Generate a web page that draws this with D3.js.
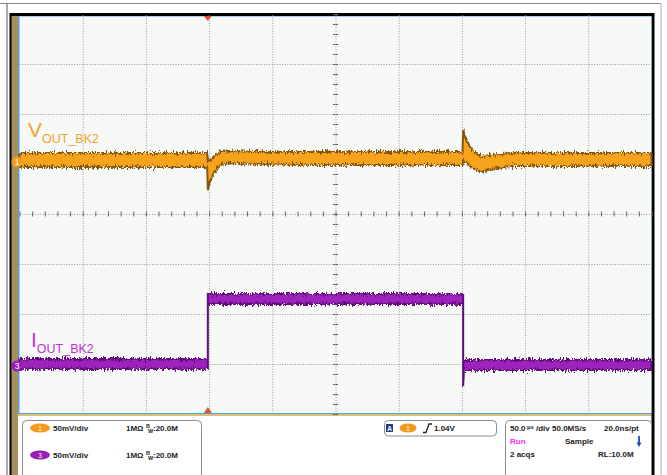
<!DOCTYPE html>
<html>
<head>
<meta charset="utf-8">
<script src="https://cdn.jsdelivr.net/npm/d3@7"></script>
<style>
  body { margin: 0; background: #fff; }
  svg { display: block; font-family: "Liberation Sans", Arial, sans-serif; }
  .info { font-size: 8px; font-weight: bold; fill: #222; }
</style>
</head>
<body>
<svg id="scope" width="667" height="475"></svg>
<script>
// time in µs (50 µs/div), amplitude in divisions (50 mV/div)
const ch1Time = [-250, -101.5, -101, -99.5, -96, -91, -83, -60, -28, 100.5, 101, 103.5, 108, 115, 123, 139, 250];
const ch1Hi = [1.22, 1.22, 1.08, 1.06, 1.16, 1.24, 1.26, 1.24, 1.24, 1.24, 1.68, 1.48, 1.28, 1.16, 1.18, 1.22, 1.22];
const ch1Lo = [0.94, 0.94, 0.48, 0.64, 0.84, 0.98, 1.02, 1.0, 0.98, 0.98, 1.08, 1.04, 0.92, 0.84, 0.9, 0.96, 0.96];

const ch3Time = [-250, -101, -101, 101, 101, 101.6, 250];
const ch3Hi = [-2.9, -2.9, -1.6, -1.6, -2.9, -2.92, -2.92];
const ch3Lo = [-3.1, -3.1, -1.8, -1.8, -3.44, -3.12, -3.12];

const gridTimes = [-200, -150, -100, -50, 0, 50, 100, 150, 200];
const gridDivs = [-3, -2, -1, 0, 1, 2, 3];
const triggerTime = -101;

const svg = d3.select("#scope");
const pLeft = 19.5, pRight = 651.5, pTop = 14, pBottom = 414;

const x = d3.scaleLinear().domain([-250, 250]).range([pLeft, pRight]);
const y = d3.scaleLinear().domain([-4, 4]).range([pBottom, pTop]);

// noise filter: only vertical jitter
const defs = svg.append("defs");
const f = defs.append("filter").attr("id", "noise")
	.attr("filterUnits", "userSpaceOnUse")
	.attr("x", 0).attr("y", 0).attr("width", 667).attr("height", 475);
f.append("feTurbulence").attr("type", "fractalNoise")
	.attr("baseFrequency", "0.9 0.25").attr("numOctaves", 2).attr("seed", 4).attr("result", "t");
f.append("feColorMatrix").attr("in", "t").attr("type", "matrix")
	.attr("values", "0 0 0 0 0.5  0 1 0 0 0  0 0 0 0 0  0 0 0 0 1").attr("result", "m");
f.append("feDisplacementMap").attr("in", "SourceGraphic").attr("in2", "m")
	.attr("scale", 8).attr("xChannelSelector", "R").attr("yChannelSelector", "G");

// outer frame lines
svg.append("line").attr("x1", 0).attr("x2", 661).attr("y1", 3.5).attr("y2", 3.5).attr("stroke", "#8a8a8a");
svg.append("line").attr("x1", 661).attr("x2", 661).attr("y1", 3.5).attr("y2", 475).attr("stroke", "#b0b0b0");
svg.append("line").attr("x1", 7).attr("x2", 7).attr("y1", 3.5).attr("y2", 475).attr("stroke", "#555");

// instrument bezel
svg.append("rect").attr("x", 9.5).attr("y", 13).attr("width", 645).attr("height", 470).attr("fill", "#000");
svg.append("rect").attr("x", 11.5).attr("y", 16).attr("width", 6.5).attr("height", 470).attr("fill", "#a68f5c");
svg.append("rect").attr("x", 18).attr("y", 16).attr("width", pRight - 18).attr("height", pBottom - 16).attr("fill", "#5b9fe3");
svg.append("rect").attr("x", pLeft).attr("y", 16.5).attr("width", pRight - pLeft).attr("height", pBottom - 17.5).attr("fill", "#f6f9f6");
svg.append("rect").attr("x", 18).attr("y", pBottom).attr("width", pRight - 18).attr("height", 2).attr("fill", "#d6c27e");
svg.append("rect").attr("x", 18).attr("y", pBottom + 2).attr("width", pRight - 18).attr("height", 70).attr("fill", "#fff");

// grid
const grid = svg.append("g");
grid.append("g").attr("transform", `translate(0,${pBottom})`)
	.call(d3.axisBottom(x).tickValues(gridTimes).tickSize(-(pBottom - pTop)).tickFormat(""))
	.call((g) => g.select(".domain").remove());
grid.append("g").attr("transform", `translate(${pLeft},0)`)
	.call(d3.axisLeft(y).tickValues(gridDivs).tickSize(-(pRight - pLeft)).tickFormat(""))
	.call((g) => g.select(".domain").remove());
grid.selectAll(".tick line").attr("stroke", "#9a9a9a").attr("stroke-dasharray", "1,1.6");

// minor ticks on centre lines
const minorT = d3.range(-250, 251, 10);
const minorV = d3.range(-4, 4.01, 0.2);
[d3.axisBottom, d3.axisTop].forEach((ax) => {
	grid.append("g").attr("transform", `translate(0,${y(0)})`)
		.call(ax(x).tickValues(minorT).tickSize(2.5).tickFormat(""))
		.call((g) => g.select(".domain").remove())
		.selectAll("line").attr("stroke", "#666");
});
[d3.axisLeft, d3.axisRight].forEach((ax) => {
	grid.append("g").attr("transform", `translate(${x(0)},0)`)
		.call(ax(y).tickValues(minorV).tickSize(2.5).tickFormat(""))
		.call((g) => g.select(".domain").remove())
		.selectAll("line").attr("stroke", "#666");
});

// traces
function trace(t, hi, lo, fill, edge) {
	const idx = d3.range(t.length);
	const area = d3.area().x((i) => x(t[i])).y0((i) => y(lo[i])).y1((i) => y(hi[i]));
	svg.append("path").datum(idx).attr("d", area)
		.attr("fill", fill).attr("stroke", edge).attr("stroke-width", 2)
		.attr("filter", "url(#noise)");
}
trace(ch1Time, ch1Hi, ch1Lo, "#f7a41c", "#85560e");
trace(ch3Time, ch3Hi, ch3Lo, "#9e20bc", "#5e0a78");

// labels
const vl = svg.append("text").attr("x", 28).attr("y", 137).attr("fill", "#f3a230");
vl.append("tspan").attr("font-size", 21).text("V");
vl.append("tspan").attr("font-size", 12.5).attr("dy", 6).text("OUT_BK2");
const il = svg.append("text").attr("x", 31).attr("y", 347).attr("fill", "#c234d2");
il.append("tspan").attr("font-size", 21).text("I");
il.append("tspan").attr("font-size", 12.5).attr("dy", 6).text("OUT_BK2");

// channel markers
[[1, 1.04, "#f39a1e"], [3, -3.04, "#9b1db8"]].forEach(([n, v, c]) => {
	svg.append("circle").attr("cx", 17).attr("cy", y(v)).attr("r", 5.5).attr("fill", c);
	svg.append("text").attr("x", 17).attr("y", y(v) + 3).attr("text-anchor", "middle")
		.attr("font-size", 8.5).attr("fill", "#fff").text(n);
});

// trigger markers
const tx = x(triggerTime);
svg.append("path").attr("d", `M${tx - 4},${pTop + 2}L${tx + 4},${pTop + 2}L${tx},${pTop + 7}Z`).attr("fill", "#e2512a");
svg.append("path").attr("d", `M${tx - 4},${pBottom - 1}L${tx + 4},${pBottom - 1}L${tx},${pBottom - 7}Z`).attr("fill", "#e2512a");

// info panel
const box = (bx, by, bw, bh) => svg.append("rect").attr("x", bx).attr("y", by).attr("width", bw).attr("height", bh)
	.attr("rx", 4).attr("fill", "#fff").attr("stroke", "#8c8c8c");
box(22.5, 420.5, 179, 70);
box(384.5, 420.5, 112, 15.5);
box(505.5, 420.5, 146, 70);

function pill(cx, cy, rx, c, n) {
	svg.append("ellipse").attr("cx", cx).attr("cy", cy).attr("rx", rx).attr("ry", 4.5).attr("fill", c);
	svg.append("text").attr("x", cx).attr("y", cy + 2.5).attr("text-anchor", "middle")
		.attr("font-size", 6.5).attr("fill", "#fff").text(n);
}
function txt(tx, ty, s, col) {
	return svg.append("text").attr("class", "info").attr("x", tx).attr("y", ty).style("fill", col || "#222").text(s);
}
function bw(bx, by) {
	svg.append("text").attr("class", "info").attr("x", bx).attr("y", by - 3).style("font-size", "5.5px").text("B");
	svg.append("text").attr("class", "info").attr("x", bx + 2).attr("y", by + 1.5).style("font-size", "5.5px").text("W");
	txt(bx + 7, by, ":20.0M");
}
pill(40, 428, 10, "#f39a1e", "1");
txt(53, 431, "50mV/div");
txt(126, 431, "1MΩ");
bw(146, 431);
pill(40, 455, 10, "#9b1db8", "3");
txt(53, 458, "50mV/div");
txt(126, 458, "1MΩ");
bw(146, 458);

svg.append("rect").attr("x", 386).attr("y", 424).attr("width", 7).attr("height", 8).attr("fill", "#1d3f8a");
svg.append("text").attr("x", 389.5).attr("y", 431).attr("text-anchor", "middle").attr("font-size", 6.5)
	.attr("font-weight", "bold").attr("fill", "#fff").text("A");
pill(408, 428, 8.5, "#f39a1e", "1");
svg.append("path").attr("d", "M423,432.5L426,432.5L429,424L432,424").attr("fill", "none").attr("stroke", "#222").attr("stroke-width", 1.3);
txt(434, 431, "1.04V");

txt(510, 431, "50.0");
svg.append("text").attr("class", "info").attr("x", 527).attr("y", 429).style("font-size", "6px").text("µs");
txt(536, 431, "/div 50.0MS/s");
txt(604, 431, "20.0ns/pt");
txt(510, 444, "Run", "#ff2cff");
txt(565, 444, "Sample");
svg.append("path").attr("d", "M639,436L639,444").attr("stroke", "#2044c8").attr("stroke-width", 1.8);
svg.append("path").attr("d", "M636.5,442.5L641.5,442.5L639,447Z").attr("fill", "#2044c8");
txt(510, 457, "2 acqs");
txt(598, 457, "RL:10.0M");
</script>
</body>
</html>
